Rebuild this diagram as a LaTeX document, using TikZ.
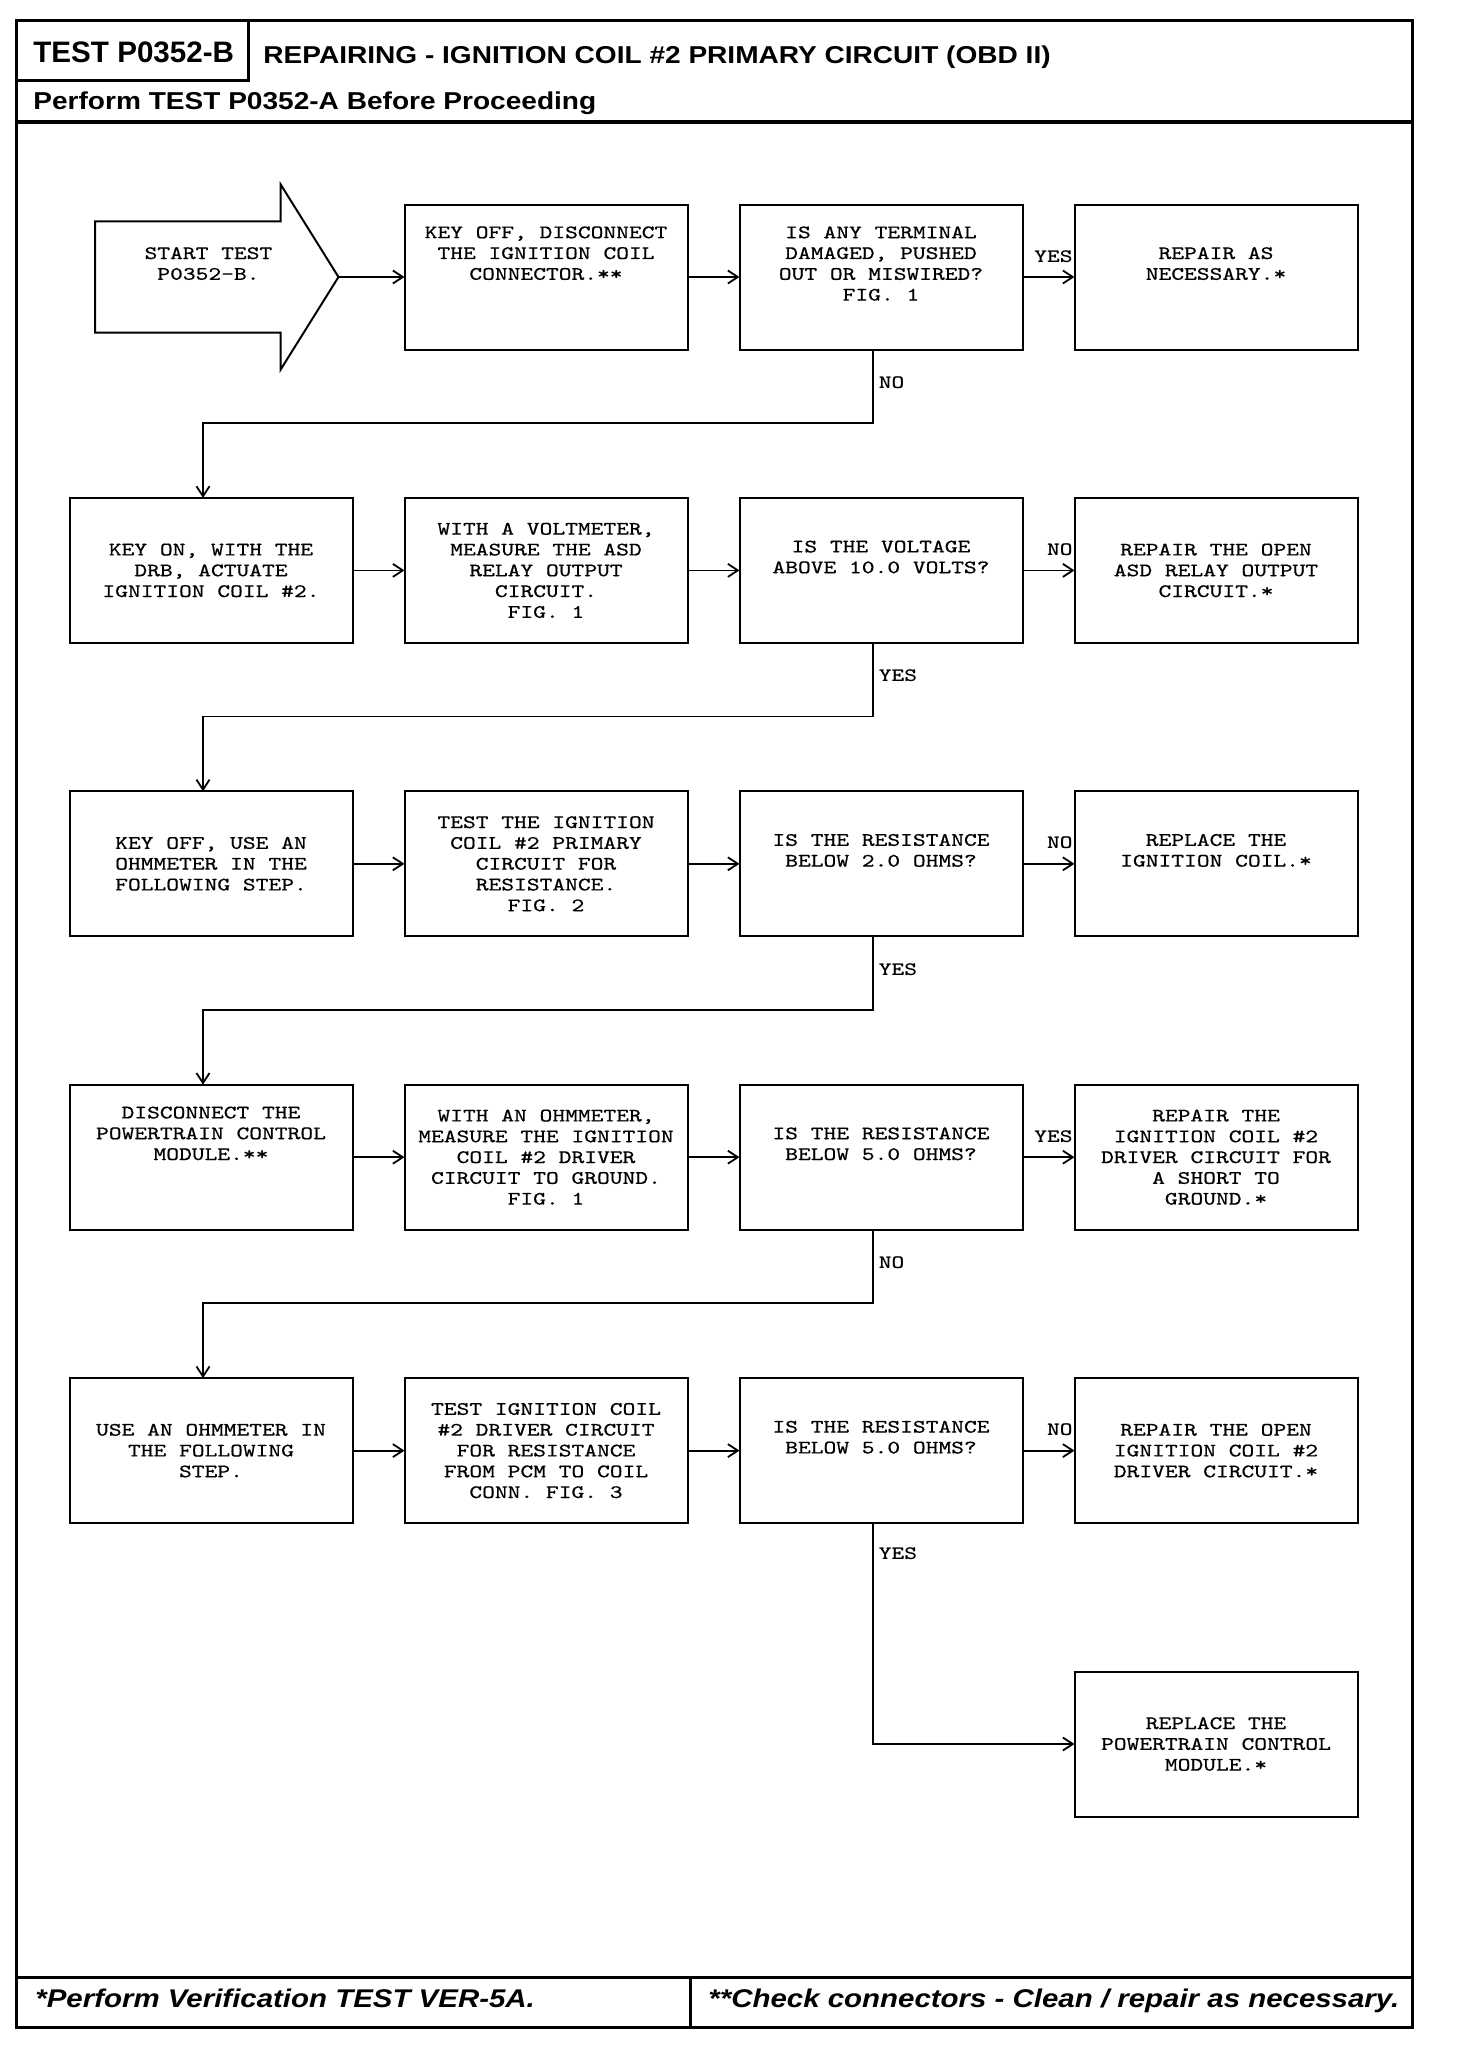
\documentclass[tikz,border=0pt]{standalone}
\usepackage{fontspec}
\usepackage{tikz}
\usetikzlibrary{arrows.meta,positioning,shapes.arrows}

\newfontfamily\headfont[FakeStretch=1.15]{Liberation Sans}
\newfontfamily\tagfont{Liberation Sans}
\newfontfamily\boxfont[FakeStretch=1.28,FakeBold=0.6]{lmmono10-regular.otf}
\newfontfamily\lblfont[FakeStretch=1.28]{lmmonolt10-bold.otf}
\newcommand{\gap}{\\\strut}

\begin{document}
\begin{tikzpicture}[
  x=0.5pt, y=-0.5pt,
  node distance=74.2pt and 26pt,
  stepbox/.style={draw, line width=1pt, outer sep=0pt, minimum width=141.5pt, minimum height=72.5pt, align=center, inner sep=2pt, font=\boxfont\fontsize{9.5}{10.4}\selectfont},
  startarrow/.style={draw, line width=1pt, outer sep=0pt, single arrow, single arrow head extend=10.25pt, single arrow tip angle=116, minimum height=121.7pt, minimum width=92.5pt, inner sep=0pt, align=center, font=\boxfont\fontsize{9.5}{10.4}\selectfont},
  lbl/.style={font=\lblfont\fontsize{9.5}{10.4}\selectfont, inner sep=0.5pt},
  arrow/.style={-{Straight Barb[length=5pt,width=6.5pt]}, line width=0.9pt},
  frame/.style={line width=1.5pt},
  head/.style={anchor=base west, inner sep=0pt}
]
\useasboundingbox (0,0) rectangle (1456,2050);
\fill[white] (0,0) rectangle (1456,2050);

% frame and header
\draw[frame] (16.7,20.7) rectangle (1412,2027.3);
\draw[frame] (248.3,20.7) -- (248.3,80.5) -- (16.7,80.5);
\draw[line width=2pt] (16.7,122) -- (1412,122);
\draw[frame] (16.7,1977.3) -- (1412,1977.3) (690.7,1977.3) -- (690.7,2027.3);

\node[head, font=\tagfont\bfseries\fontsize{14.8}{16}\selectfont] (tag) at (33,63) {TEST P0352-B};
\node[head, font=\headfont\bfseries\fontsize{12.2}{14}\selectfont] (title) at (263,64) {REPAIRING - IGNITION COIL \#2 PRIMARY CIRCUIT (OBD II)};
\node[head, font=\headfont\bfseries\fontsize{12.2}{14}\selectfont] (pre) at (33,110) {Perform TEST P0352-A Before Proceeding};
\node[head, font=\headfont\bfseries\itshape\fontsize{12.8}{14}\selectfont] (note1) at (35,2007.5) {*Perform Verification TEST VER-5A.};
\node[head, font=\headfont\bfseries\itshape\fontsize{12.8}{14}\selectfont] (note2) at (708,2007.5) {**Check connectors - Clean / repair as necessary.};

% row 1
\node[stepbox] (k1) at (546,277) {KEY OFF, DISCONNECT\\THE IGNITION COIL\\CONNECTOR.**\gap\gap};
\node[startarrow, left=33pt of k1] (start) {\hspace*{9pt}START TEST\\\hspace*{9pt}P0352-B.\gap};
\node[stepbox, right=of k1] (q1) {IS ANY TERMINAL\\DAMAGED, PUSHED\\OUT OR MISWIRED?\\FIG. 1\gap};
\node[stepbox, right=of q1] (r1) {REPAIR AS\\NECESSARY.*\gap};

% row 2
\node[stepbox, below=of k1] (vm2) {WITH A VOLTMETER,\\MEASURE THE ASD\\RELAY OUTPUT\\CIRCUIT.\\FIG. 1};
\node[stepbox, left=of vm2] (on2) {KEY ON, WITH THE\\DRB, ACTUATE\\IGNITION COIL \#2.};
\node[stepbox, right=of vm2] (q2) {IS THE VOLTAGE\\ABOVE 10.0 VOLTS?\gap};
\node[stepbox, right=of q2] (r2) {REPAIR THE OPEN\\ASD RELAY OUTPUT\\CIRCUIT.*};

% row 3
\node[stepbox, below=of vm2] (tc3) {TEST THE IGNITION\\COIL \#2 PRIMARY\\CIRCUIT FOR\\RESISTANCE.\\FIG. 2};
\node[stepbox, left=of tc3] (off3) {KEY OFF, USE AN\\OHMMETER IN THE\\FOLLOWING STEP.};
\node[stepbox, right=of tc3] (q3) {IS THE RESISTANCE\\BELOW 2.0 OHMS?\gap};
\node[stepbox, right=of q3] (r3) {REPLACE THE\\IGNITION COIL.*\gap};

% row 4
\node[stepbox, below=of tc3] (om4) {WITH AN OHMMETER,\\MEASURE THE IGNITION\\COIL \#2 DRIVER\\CIRCUIT TO GROUND.\\FIG. 1};
\node[stepbox, left=of om4] (dc4) {DISCONNECT THE\\POWERTRAIN CONTROL\\MODULE.**\gap\gap};
\node[stepbox, right=of om4] (q4) {IS THE RESISTANCE\\BELOW 5.0 OHMS?\gap};
\node[stepbox, right=of q4] (r4) {REPAIR THE\\IGNITION COIL \#2\\DRIVER CIRCUIT FOR\\A SHORT TO\\GROUND.*};

% row 5
\node[stepbox, below=of om4] (tr5) {TEST IGNITION COIL\\\#2 DRIVER CIRCUIT\\FOR RESISTANCE\\FROM PCM TO COIL\\CONN. FIG. 3};
\node[stepbox, left=of tr5] (use5) {USE AN OHMMETER IN\\THE FOLLOWING\\STEP.};
\node[stepbox, right=of tr5] (q5) {IS THE RESISTANCE\\BELOW 5.0 OHMS?\gap};
\node[stepbox, right=of q5] (r5) {REPAIR THE OPEN\\IGNITION COIL \#2\\DRIVER CIRCUIT.*};

\node[stepbox, below=of r5] (pcm) {REPLACE THE\\POWERTRAIN CONTROL\\MODULE.*};

% connectors
\draw[arrow] (start) -- (k1);
\foreach \a/\b in {k1/q1,on2/vm2,vm2/q2,off3/tc3,tc3/q3,dc4/om4,om4/q4,use5/tr5,tr5/q5} \draw[arrow] (\a) -- (\b);
\foreach \a/\b/\t in {q1/r1/YES,q2/r2/NO,q3/r3/NO,q4/r4/YES,q5/r5/NO} \draw[arrow] (\a) -- node[lbl, pos=1, anchor=base east, yshift=7.5pt] {\t} (\b);
\foreach \a/\b/\t in {q1/on2/NO,q2/off3/YES,q3/dc4/YES,q4/use5/NO} \draw[arrow] ([xshift=-4pt]\a.south) -- node[lbl, anchor=west, xshift=2pt, yshift=1.8pt] {\t} ++(0,-36.75pt) -| ([xshift=-4pt]\b.north);
\draw[arrow] ([xshift=-4pt]q5.south) |- node[lbl, pos=0.07, anchor=west, xshift=2pt] {YES} (pcm);
\end{tikzpicture}
\end{document}
